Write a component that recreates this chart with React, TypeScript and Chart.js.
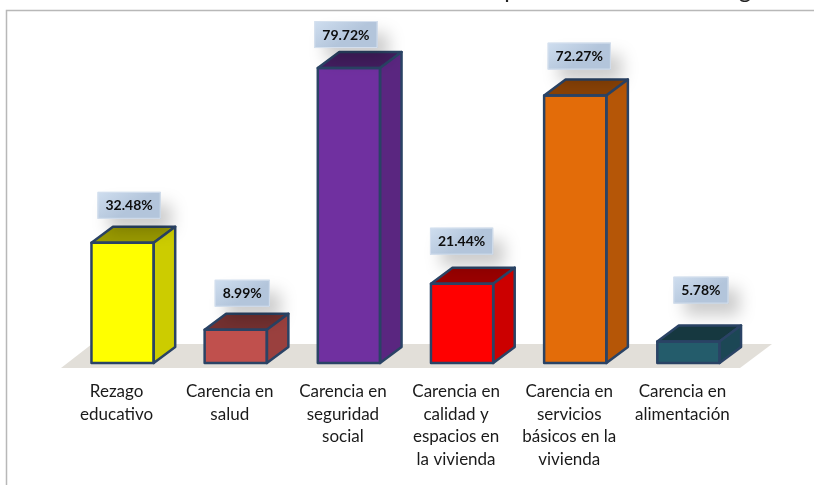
import React, { useEffect, useRef } from "react";
import { Chart, registerables } from "chart.js";

Chart.register(...registerables);

const categories: string[][] = [
  ["Rezago", "educativo"],
  ["Carencia en", "salud"],
  ["Carencia en", "seguridad", "social"],
  ["Carencia en", "calidad y", "espacios en", "la vivienda"],
  ["Carencia en", "servicios", "básicos en la", "vivienda"],
  ["Carencia en", "alimentación"],
];
const values = [32.48, 8.99, 79.72, 21.44, 72.27, 5.78];
const frontColors = ["#ffff00", "#c0504d", "#7030a0", "#ff0000", "#e36c09", "#245c6b"];
const topColors = ["#999900", "#733030", "#431d60", "#990000", "#884105", "#163840"];
const sideColors = ["#cccc00", "#9a403e", "#5a2680", "#cc0000", "#b55607", "#1c4755"];
const labelNudgeX = [6.5, 6.5, -3, -0.5, 4, 12.5];
const labelGap = [24, 23, 20, 29, 26, 38];

const OUTLINE = "#2a4365";
const DEPTH_X = 21.5;
const DEPTH_Y = 16;

const poly = (ctx: CanvasRenderingContext2D, pts: number[][], fill: string, stroke?: string) => {
  ctx.beginPath();
  pts.forEach(([x, y], i) => (i ? ctx.lineTo(x, y) : ctx.moveTo(x, y)));
  ctx.closePath();
  ctx.fillStyle = fill;
  ctx.fill();
  if (stroke) {
    ctx.strokeStyle = stroke;
    ctx.lineWidth = 2.5;
    ctx.lineJoin = "round";
    ctx.stroke();
  }
};

const framePlugin = {
  id: "frameAndFloor",
  beforeDatasetsDraw(chart: any) {
    const { ctx } = chart;
    const base = chart.scales.y.getPixelForValue(0);
    ctx.save();
    ctx.strokeStyle = "#b8b8b8";
    ctx.lineWidth = 1.5;
    ctx.beginPath();
    ctx.moveTo(6.5, 485);
    ctx.lineTo(6.5, 10.5);
    ctx.lineTo(814, 10.5);
    ctx.stroke();
    poly(ctx, [[61, base + 5], [92, base - 19], [772, base - 19], [740, base + 5]], "#e2dfd9");
    ctx.beginPath();
    ctx.rect(0, 0, 814, 4);
    ctx.clip();
    ctx.fillStyle = "#222222";
    ctx.font = "24px Lato";
    ctx.textAlign = "center";
    ctx.textBaseline = "alphabetic";
    ctx.fillText("p", 511, -2);
    ctx.fillText("g", 745, -2);
    ctx.restore();
  },
};

const boxPlugin = {
  id: "boxes3d",
  afterDatasetsDraw(chart: any) {
    const { ctx } = chart;
    const bars = chart.getDatasetMeta(0).data;
    ctx.save();
    bars.forEach((bar: any, i: number) => {
      const l = bar.x - bar.width / 2;
      const r = bar.x + bar.width / 2;
      const t = bar.y;
      const b = bar.base;
      poly(ctx, [[l, t], [l + DEPTH_X, t - DEPTH_Y], [r + DEPTH_X, t - DEPTH_Y], [r, t]], topColors[i], OUTLINE);
      poly(ctx, [[r, t], [r + DEPTH_X, t - DEPTH_Y], [r + DEPTH_X, b - DEPTH_Y], [r, b]], sideColors[i], OUTLINE);
      ctx.strokeStyle = OUTLINE;
      ctx.lineWidth = 2.5;
      ctx.strokeRect(l, t, r - l, b - t);
    });
    bars.forEach((bar: any, i: number) => {
      const text = values[i].toFixed(2) + "%";
      ctx.font = "bold 14px Lato";
      const w = ctx.measureText(text).width + 16;
      const h = 27;
      const cx = bar.x + labelNudgeX[i];
      const x = cx - w / 2;
      const y = bar.y - labelGap[i] - h;
      const g = ctx.createLinearGradient(x, y, x + w * 0.3, y + h);
      g.addColorStop(0, "#cfdeef");
      g.addColorStop(1, "#b3c5db");
      ctx.save();
      ctx.shadowColor = "rgba(0,0,0,0.2)";
      ctx.shadowBlur = 16;
      ctx.shadowOffsetX = 11;
      ctx.shadowOffsetY = 12;
      ctx.fillStyle = g;
      ctx.fillRect(x, y, w, h);
      ctx.restore();
      ctx.strokeStyle = "#d5e0ee";
      ctx.lineWidth = 1;
      ctx.strokeRect(x + 0.5, y + 0.5, w - 1, h - 1);
      ctx.fillStyle = "#0d0d0d";
      ctx.textAlign = "center";
      ctx.textBaseline = "middle";
      ctx.fillText(text, cx, y + h / 2 + 0.5);
    });
    ctx.restore();
  },
};

export default function App() {
  const ref = useRef<HTMLCanvasElement | null>(null);
  useEffect(() => {
    document.body.style.margin = "0";
    const chart = new Chart(ref.current as HTMLCanvasElement, {
      type: "bar",
      data: {
        labels: categories as any,
        datasets: [
          {
            data: values,
            backgroundColor: frontColors,
            borderWidth: 0,
            barPercentage: 0.55,
            categoryPercentage: 1,
          },
        ],
      },
      options: {
        responsive: false,
        animation: false,
        layout: { padding: { left: 66, right: 69, top: 30, bottom: 0 } },
        plugins: { legend: { display: false }, title: { display: false }, tooltip: { enabled: false } },
        scales: {
          x: {
            afterFit: (s: any) => {
              s.height = 122;
            },
            grid: { display: false },
            border: { display: false },
            ticks: {
              autoSkip: false,
              maxRotation: 0,
              padding: 9,
              labelOffset: -6,
              color: "#1a1a1a",
              font: { family: "Lato", size: 17, lineHeight: 1.34 },
            },
          },
          y: { display: false, min: 0, max: 90 },
        },
      },
      plugins: [framePlugin, boxPlugin],
    } as any);
    return () => chart.destroy();
  }, []);
  return (
    <canvas
      ref={ref}
      width={814}
      height={485}
      style={{ display: "block", width: 814, height: 485 }}
    />
  );
}
